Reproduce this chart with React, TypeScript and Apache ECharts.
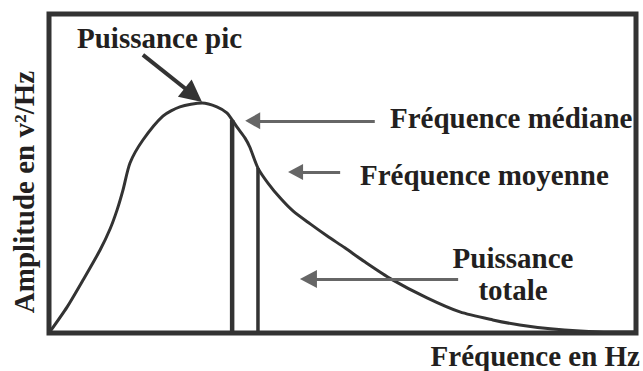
import React, { useEffect, useRef } from "react";
import * as echarts from "echarts";

// Spectre de puissance (valeurs relatives)
const freq = [0, 3.1, 5.8, 8.7, 10.4, 11.6, 12.6, 13.8, 16.0, 19.4, 22.3, 26.1, 28.6, 30.3, 31.2, 32.0, 33.4, 34.2, 35.6, 37.3, 39.4, 41.6, 44.5, 47.4, 50.4, 53.8, 58.3, 64.4, 70.0, 75.6, 80.2, 85.4, 90.5, 95.6, 100];
const amplitude = [0, 8.2, 16.6, 26.0, 32.6, 38.6, 44.8, 53.3, 60.5, 68.0, 70.9, 72.1, 70.9, 69.0, 66.8, 64.6, 61.1, 58.3, 51.7, 47.0, 42.3, 38.2, 34.2, 30.4, 26.7, 22.3, 16.9, 11.0, 6.6, 4.1, 2.5, 1.3, 0.6, 0.3, 0.3];

const median = [31.2, 66.8]; // [fréquence, amplitude au sommet]
const mean = [35.6, 51.7];

// Flèches d'annotation : [x départ, y départ, x pointe, y pointe]
const arrowPic = [16.0, 87.2, 24.6, 74.6];
const arrowMedian = [55.5, 66.5, 34.7, 66.5];
const arrowMean = [49.6, 50.5, 42.0, 50.5];
const arrowTotal = [69.7, 16.9, 44.2, 16.9];

const xName = "Fréquence en Hz";
const yName = "Amplitude en v²/Hz";

const FONT = '"Liberation Serif", "Times New Roman", serif';
const TXT = "#231f20";
const DARK = "#333333";

function arrow(a: number[], color: string, width: number, size: number[]) {
  return [
    { coord: [a[0], a[1]], symbol: "none", lineStyle: { color, width, type: "solid" } },
    { coord: [a[2], a[3]], symbol: "triangle", symbolSize: size, lineStyle: { color, width, type: "solid" } },
  ];
}

export default function App() {
  const ref = useRef<HTMLDivElement>(null);
  useEffect(() => {
    if (!ref.current) return;
    const chart = echarts.init(ref.current, null, { renderer: "svg" });
    const textStyle = (text: string, extra: any = {}) => ({
      text,
      font: `bold 29px ${FONT}`,
      fill: TXT,
      ...extra,
    });
    chart.setOption({
      animation: false,
      backgroundColor: "#ffffff",
      grid: {
        show: true,
        left: 49,
        right: 7,
        top: 14,
        bottom: 38,
        borderColor: DARK,
        borderWidth: 5,
        backgroundColor: "transparent",
      },
      xAxis: {
        type: "value",
        min: 0,
        max: 100,
        axisLine: { show: false },
        axisTick: { show: false },
        axisLabel: { show: false },
        splitLine: { show: false },
        name: xName,
        nameLocation: "end",
        nameGap: 4,
        nameTextStyle: {
          fontFamily: FONT,
          fontWeight: "bold",
          fontSize: 29,
          color: TXT,
          align: "right",
          verticalAlign: "top",
          padding: [8, 0, 0, 0],
        },
      },
      yAxis: {
        type: "value",
        min: 0,
        max: 100,
        axisLine: { show: false },
        axisTick: { show: false },
        axisLabel: { show: false },
        splitLine: { show: false },
        name: yName,
        nameLocation: "middle",
        nameRotate: 90,
        nameGap: 11,
        nameTextStyle: {
          fontFamily: FONT,
          fontWeight: "bold",
          fontSize: 29,
          color: TXT,
          align: "center",
          verticalAlign: "bottom",
          padding: [0, 37, 0, 0],
        },
      },
      series: [
        {
          type: "line",
          data: freq.map((f, i) => [f, amplitude[i]]),
          showSymbol: false,
          smooth: 0.25,
          lineStyle: { color: DARK, width: 3 },
          silent: true,
          markLine: {
            silent: true,
            animation: false,
            label: { show: false },
            data: [
              arrow(arrowPic, DARK, 4, [22, 22]),
              arrow(arrowMedian, "#666666", 3, [17, 15]),
              arrow(arrowMean, "#666666", 3, [16, 15]),
              arrow(arrowTotal, "#666666", 3, [18, 17]),
            ],
          },
        },
        {
          type: "line",
          data: [[median[0], 0], [median[0], median[1]]],
          showSymbol: false,
          lineStyle: { color: DARK, width: 4.5 },
          silent: true,
        },
        {
          type: "line",
          data: [[mean[0], 0], [mean[0], mean[1]]],
          showSymbol: false,
          lineStyle: { color: DARK, width: 3.5 },
          silent: true,
        },
      ],
      graphic: [
        { type: "text", x: 77, y: 37.5, style: textStyle("Puissance pic", { align: "left", verticalAlign: "middle" }) },
        { type: "text", x: 390, y: 118, style: textStyle("Fréquence médiane", { align: "left", verticalAlign: "middle" }) },
        { type: "text", x: 360, y: 175, style: textStyle("Fréquence moyenne", { align: "left", verticalAlign: "middle" }) },
        { type: "text", x: 513, y: 257.5, style: textStyle("Puissance", { align: "center", verticalAlign: "middle" }) },
        { type: "text", x: 513, y: 290, style: textStyle("totale", { align: "center", verticalAlign: "middle" }) },
      ],
    });
    return () => chart.dispose();
  }, []);
  return (
    <div
      ref={ref}
      style={{ position: "fixed", left: 0, top: 0, width: 643, height: 371 }}
    />
  );
}
